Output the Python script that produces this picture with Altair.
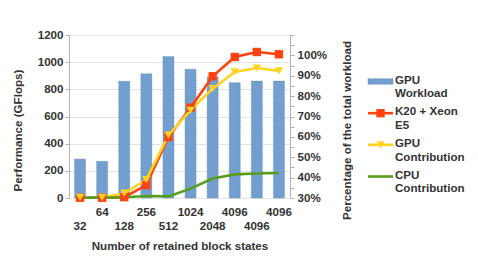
import altair as alt
import pandas as pd

# ---- data ----
tick_labels = ["32", "64", "128", "256", "512", "1024", "2048", "4096", "4096", "4096"]
gpu_workload = [49.1, 48.0, 87.3, 91.0, 99.5, 93.2, 89.4, 86.6, 87.4, 87.4]   # % (right axis)
k20_xeon = [2, 2, 6, 95, 449, 665, 896, 1038, 1075, 1058]                     # GFlops
gpu_contrib = [4, 4, 35, 135, 462, 646, 805, 928, 957, 935]                   # GFlops
cpu_contrib = [3, 3, 5, 15, 12, 69, 143, 174, 180, 184]                       # GFlops

series_names = ["GPU Workload", "K20 + Xeon E5", "GPU Contribution", "CPU Contribution"]
legend_text = ["GPU\nWorkload", "K20 + Xeon\nE5", "GPU\nContribution", "CPU\nContribution"]
colors = ["#729fcf", "#ff420e", "#ffd320", "#579d1c"]

FONT = "Liberation Sans"
TXT = "#333333"
FS = 11.6

pos = list(range(len(tick_labels)))
bars_df = pd.DataFrame({"pos": pos, "workload": gpu_workload})
lines_df = pd.concat([
    pd.DataFrame({"pos": pos, "value": k20_xeon, "series": series_names[1]}),
    pd.DataFrame({"pos": pos, "value": gpu_contrib, "series": series_names[2]}),
    pd.DataFrame({"pos": pos, "value": cpu_contrib, "series": series_names[3]}),
])
pts_df = lines_df[lines_df["series"] != series_names[3]]
legend_df = pd.DataFrame({"idx": [0, 1, 2, 3], "series": series_names, "label": legend_text})

color_scale = alt.Scale(domain=series_names, range=colors)
lab_arr = "[" + ",".join("'%s'" % t for t in tick_labels) + "]"

x_enc = alt.X(
    "pos:O",
    scale=alt.Scale(paddingInner=0.5, paddingOuter=0.25),
    axis=alt.Axis(
        title="Number of retained block states",
        labelAngle=0,
        labelExpr=f"datum.value % 2 == 0 ? ['', {lab_arr}[datum.value]] : [{lab_arr}[datum.value]]",
        labelLineHeight=14,
        labelPadding=8,
        ticks=False,
        domain=False,
        titleY=48,
        titleBaseline="middle",
    ),
)

bars = alt.Chart(bars_df).mark_bar(
    color=colors[0], stroke="#5b82b3", strokeWidth=0.8, strokeDash=[1.2, 1.2], strokeOpacity=0.8
).encode(
    x=x_enc,
    y=alt.Y(
        "workload:Q",
        scale=alt.Scale(domain=[30, 110], zero=False, nice=False),
        axis=alt.Axis(
            orient="right",
            title="Percentage of the total workload",
            values=list(range(30, 111, 5)),
            labelExpr="datum.value % 10 == 0 && datum.value < 110 ? datum.value + '%' : ''",
            grid=False,
            tickSize=4,
            titleAngle=270,
            titleX=57,
            titleY=95,
            titleBaseline="middle",
            titleAlign="center",
            labelPadding=3,
        ),
    ),
    y2=alt.datum(30),
)

lines = alt.Chart(lines_df).mark_line(strokeWidth=2.6).encode(
    x=alt.X("pos:O"),
    y=alt.Y(
        "value:Q",
        scale=alt.Scale(domain=[0, 1200], nice=False),
        axis=alt.Axis(
            orient="left",
            title="Performance (GFlops)",
            values=list(range(0, 1201, 200)),
            format="d",
            grid=True,
            gridColor="#e3e3e3",
            tickSize=4,
            titleAngle=270,
            titleX=-51,
            titleY=95,
            titleBaseline="middle",
            titleAlign="center",
            labelPadding=2,
        ),
    ),
    color=alt.Color("series:N", scale=color_scale, legend=None),
)

pts = alt.Chart(pts_df).mark_point(filled=True, size=70, opacity=1).encode(
    x=alt.X("pos:O"),
    y=alt.Y("value:Q", scale=alt.Scale(domain=[0, 1200], nice=False), axis=None),
    color=alt.Color("series:N", scale=color_scale, legend=None),
    shape=alt.Shape(
        "series:N",
        scale=alt.Scale(domain=series_names[1:3], range=["square", "triangle-down"]),
        legend=None,
    ),
)

# ---- legend drawn as marks ----
ly = alt.Y("idx:Q", scale=alt.Scale(domain=[0, 3], range=[46.5, 141.5]), axis=None)
leg_bar = alt.Chart(legend_df[legend_df["idx"] == 0]).mark_point(
    shape="M-1,-0.22H1V0.22H-1Z", size=625, filled=True, fill=colors[0],
    stroke="#5b82b3", strokeWidth=0.8, strokeDash=[1.2, 1.2], opacity=1,
).encode(x=alt.value(311.5), y=ly)
leg_lines = alt.Chart(legend_df[legend_df["idx"] > 0]).mark_rule(strokeWidth=2.6).encode(
    x=alt.value(299), x2=alt.value(324), y=ly,
    color=alt.Color("series:N", scale=color_scale, legend=None),
)
leg_pts = alt.Chart(legend_df[(legend_df["idx"] > 0) & (legend_df["idx"] < 3)]).mark_point(
    filled=True, size=70, opacity=1
).encode(
    x=alt.value(311.5), y=ly,
    color=alt.Color("series:N", scale=color_scale, legend=None),
    shape=alt.Shape(
        "series:N",
        scale=alt.Scale(domain=series_names[1:3], range=["square", "triangle-down"]),
        legend=None,
    ),
)
leg_text = alt.Chart(legend_df).mark_text(
    align="left", baseline="top", dy=-6.8, lineBreak="\n", lineHeight=13.5,
    font=FONT, fontSize=FS, fontWeight="bold", color=TXT,
).encode(x=alt.value(326), y=ly, text="label:N")

chart = alt.layer(
    bars, lines, pts, leg_bar, leg_lines, leg_pts, leg_text
).resolve_scale(
    y="independent", color="shared", shape="shared"
).properties(
    width=221, height=163,
    autosize=alt.AutoSizeParams(type="none"),
    padding={"left": 61, "top": 27, "right": 180, "bottom": 60},
).configure_view(
    stroke=None
).configure_axis(
    labelFont=FONT, titleFont=FONT, labelFontSize=FS, titleFontSize=FS,
    labelFontWeight="bold", titleFontWeight="bold",
    labelColor=TXT, titleColor=TXT,
    domainColor="#b3b3b3", tickColor="#b3b3b3",
)

chart.save("out.html", embed_options={"renderer": "svg", "actions": False})
